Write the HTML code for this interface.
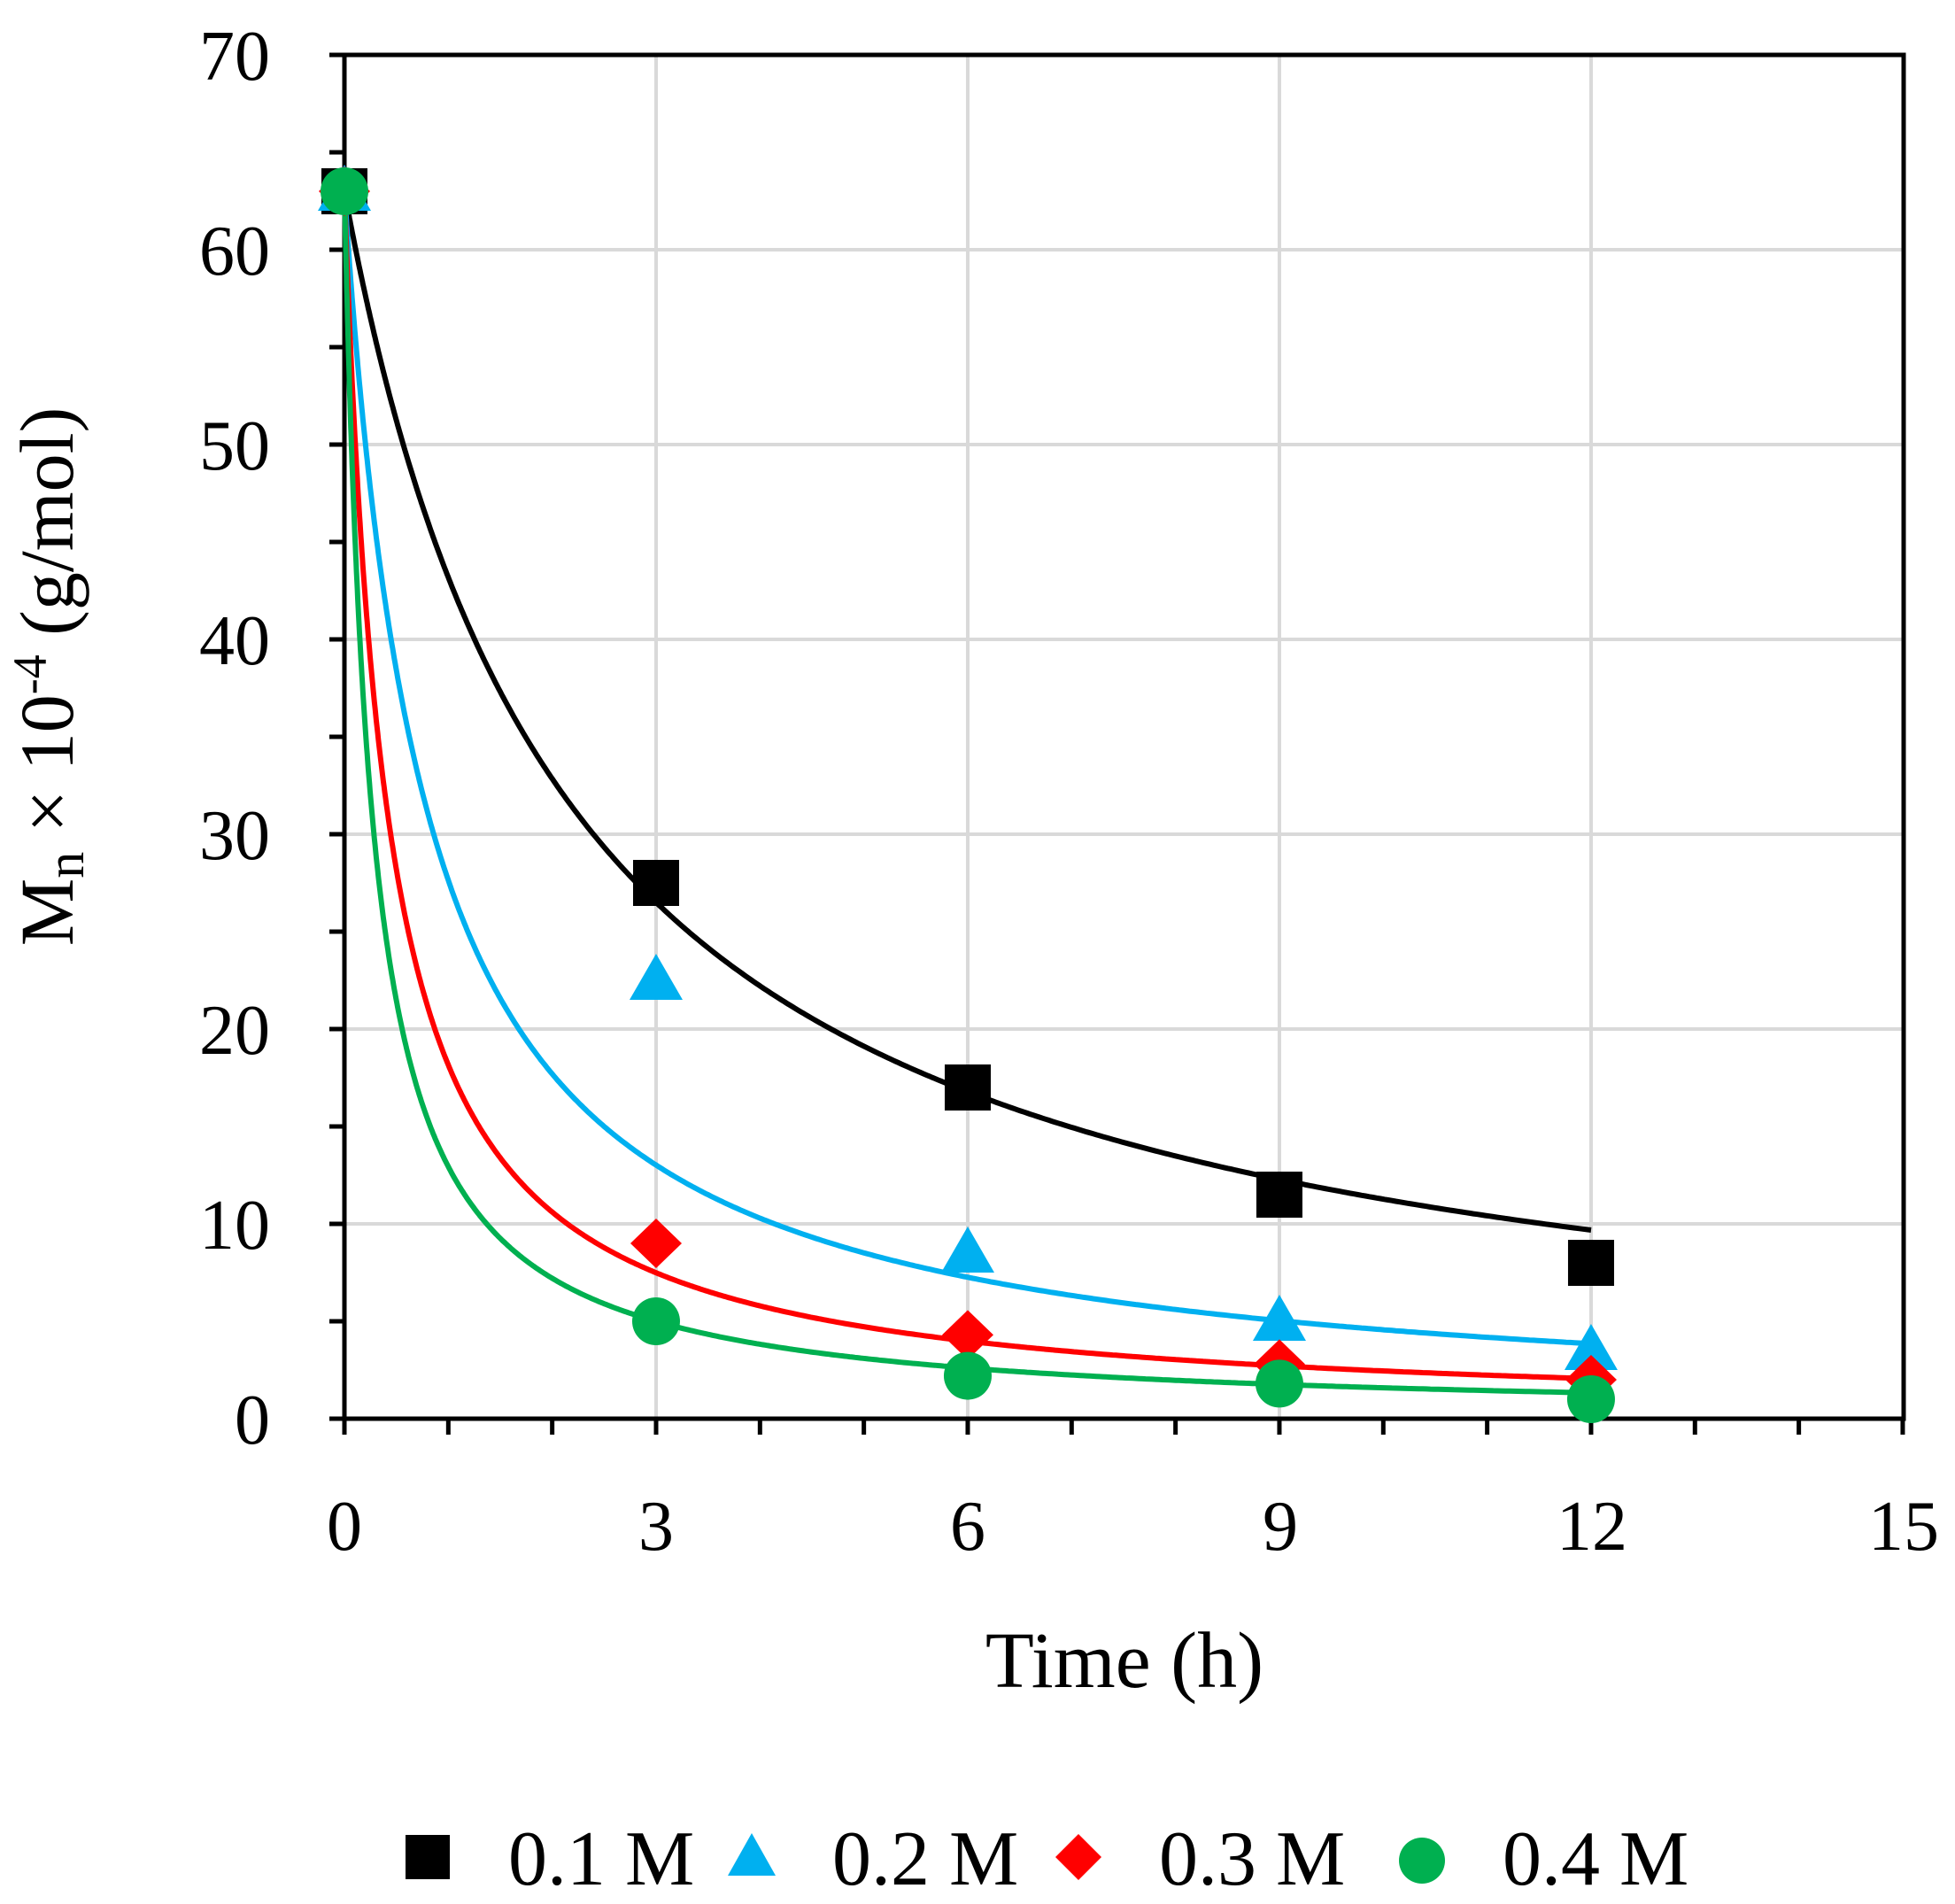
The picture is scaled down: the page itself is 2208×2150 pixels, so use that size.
<!DOCTYPE html>
<html><head><meta charset="utf-8"><style>
html,body{margin:0;padding:0;background:#fff;}
svg{display:block;}
text{font-family:"Liberation Serif",serif;fill:#000;}
</style></head><body>
<svg id="s" width="2208" height="2150" viewBox="0 0 2208 2150" xmlns="http://www.w3.org/2000/svg">
<g id="grid" stroke="#d9d9d9" stroke-width="4"></g>
<g id="axes"></g>
<g id="curves" fill="none" stroke-width="6"></g>
<g id="pts"></g>
<g font-size="80">
<text x="305" y="90" text-anchor="end">70</text>
<text x="305" y="310" text-anchor="end">60</text>
<text x="305" y="530" text-anchor="end">50</text>
<text x="305" y="750" text-anchor="end">40</text>
<text x="305" y="970" text-anchor="end">30</text>
<text x="305" y="1190" text-anchor="end">20</text>
<text x="305" y="1410" text-anchor="end">10</text>
<text x="305" y="1630" text-anchor="end">0</text>
<text x="389" y="1750" text-anchor="middle">0</text>
<text x="741" y="1750" text-anchor="middle">3</text>
<text x="1093" y="1750" text-anchor="middle">6</text>
<text x="1446" y="1750" text-anchor="middle">9</text>
<text x="1798" y="1750" text-anchor="middle">12</text>
<text x="2150" y="1750" text-anchor="middle">15</text>
</g>
<text x="1270" y="1905" text-anchor="middle" font-size="90">Time (h)</text>
<text transform="translate(82,764) rotate(-90)" text-anchor="middle" font-size="86">M<tspan font-size="60" dy="12">n</tspan><tspan dy="-12"> × 10</tspan><tspan font-size="54" dy="-30">-4</tspan><tspan dy="30"> (g/mol)</tspan></text>
<g font-size="88">
<rect x="458" y="2072" width="50" height="50" fill="#000"/>
<text x="574" y="2128">0.1 M</text>
<polygon points="849,2070 876,2118 822,2118" fill="#00b0f0"/>
<text x="940" y="2128">0.2 M</text>
<polygon points="1218,2071 1244,2097 1218,2123 1192,2097" fill="#ff0000"/>
<text x="1309" y="2128">0.3 M</text>
<circle cx="1606" cy="2101" r="26" fill="#00b050"/>
<text x="1697" y="2128">0.4 M</text>
</g>
</svg>
<script>
const X=t=>389+t*117.33, Y=v=>1602-v*22;
const ns="http://www.w3.org/2000/svg";
function el(p,tag,a){const e=document.createElementNS(ns,tag);for(const k in a)e.setAttribute(k,a[k]);document.getElementById(p).appendChild(e);return e;}
for(let v=10;v<=60;v+=10)el("grid","line",{x1:389,x2:2150,y1:Y(v),y2:Y(v)});
for(let t=3;t<=12;t+=3)el("grid","line",{x1:X(t),x2:X(t),y1:62,y2:1602});
el("axes","rect",{x:389,y:62,width:1761,height:1540,fill:"none",stroke:"#000","stroke-width":5});
for(let v=0;v<=70;v+=5)el("axes","line",{x1:372,x2:389,y1:Y(v),y2:Y(v),stroke:"#000","stroke-width":5});
for(let t=0;t<=15;t++)el("axes","line",{x1:X(t),x2:X(t),y1:1602,y2:1620,stroke:"#000","stroke-width":5});
const S=[["#000",0.459,[63,27.5,17,11.5,8],"sq"],["#00b0f0",1.28,[63,22.5,8.5,5,3.5],"tri"],["#ff0000",2.47,[63,9,4.3,2.8,2],"dia"],["#00b050",3.87,[63,5,2.2,1.8,1],"cir"]];
S.forEach(([c,k])=>{let d="";for(let i=0;i<=600;i++){const t=12*Math.pow(i/600,2);d+=(i?"L":"M")+X(t).toFixed(1)+","+Y(63/(1+k*t)).toFixed(1);}el("curves","path",{d,stroke:c});});
S.forEach(([c,k,vals,m])=>{vals.forEach((v,i)=>{const x=X(i*3),y=Y(v);
if(m=="sq")el("pts","rect",{x:x-26,y:y-26,width:52,height:52,fill:c});
if(m=="tri")el("pts","polygon",{points:`${x},${y-30} ${x+30},${y+22} ${x-30},${y+22}`,fill:c});
if(m=="dia")el("pts","polygon",{points:`${x},${y-28} ${x+29},${y} ${x},${y+28} ${x-29},${y}`,fill:c});
if(m=="cir")el("pts","circle",{cx:x,cy:y,r:27,fill:c});});});
</script>
</body></html>
